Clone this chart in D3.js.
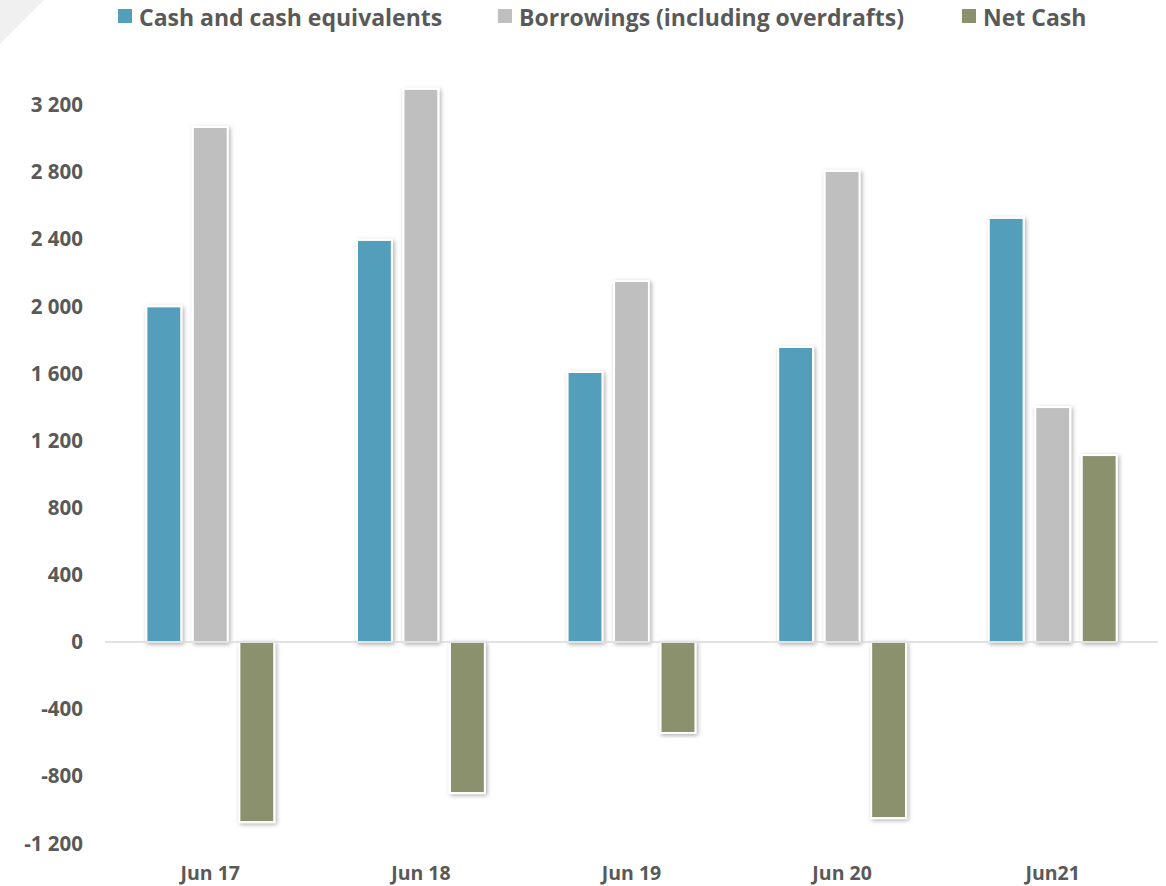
<!DOCTYPE html>
<html>
<head>
<meta charset="utf-8">
<script src="https://cdn.jsdelivr.net/npm/d3@7"></script>
<style>
  body { margin: 0; background: #fff; }
  svg { font-family: "Open Sans", sans-serif; font-weight: bold; }
</style>
</head>
<body>
<svg id="chart" width="1166" height="886"></svg>
<script>
// dades
const periodes = ["Jun 17", "Jun 18", "Jun 19", "Jun 20", "Jun21"];
const series = ["Cash and cash equivalents", "Borrowings (including overdrafts)", "Net Cash"];
const cash = [2000, 2396, 1609, 1758, 2527];
const borrowings = [3069, 3296, 2151, 2807, 1400];
const netCash = [-1073, -900, -542, -1049, 1114];
const yTicks = [-1200, -800, -400, 0, 400, 800, 1200, 1600, 2000, 2400, 2800, 3200];
const colors = ["#539fbb", "#bfbfbf", "#8a916c"];

const valors = [cash, borrowings, netCash];
const data = periodes.map((p, i) => ({
    periode: p,
    values: series.map((s, j) => ({ serie: s, value: valors[j][i] }))
}));

const svg = d3.select("#chart");

// triangle gris a la cantonada
svg.append("path")
   .attr("d", "M0,0 L44,0 L0,44 Z")
   .attr("fill", "#f0f0f0");

const defs = svg.append("defs");
const f = defs.append("filter").attr("id", "ombra")
    .attr("x", "-30%").attr("y", "-5%").attr("width", "160%").attr("height", "110%");
f.append("feDropShadow")
 .attr("dx", 1.5).attr("dy", 1.5).attr("stdDeviation", 2)
 .attr("flood-color", "#000").attr("flood-opacity", 0.32);

const left = 105, right = 1158;

const x0 = d3.scaleBand().domain(periodes).range([left, right]).padding(0);
const x1 = d3.scaleBand().domain(series).range([0, x0.bandwidth()])
             .paddingInner(0.25).paddingOuter(0.89);

const y = d3.scaleLinear().domain([0, 3200]).range([642, 105]);

const color = d3.scaleOrdinal().domain(series).range(colors);

// etiquetes eix Y
const fmt = v => d3.format(",")(v).replace(/,/g, " ").replace("−", "-");
svg.append("g")
   .selectAll("text")
   .data(yTicks)
   .join("text")
   .attr("x", 83)
   .attr("y", d => y(d))
   .attr("dy", "0.35em")
   .attr("text-anchor", "end")
   .attr("fill", "#595959")
   .style("font-size", "20.5px")
   .text(d => fmt(d));

// barres
const grups = svg.selectAll(".grup")
    .data(data)
    .join("g")
    .attr("class", "grup")
    .attr("transform", d => `translate(${x0(d.periode)},0)`);

grups.selectAll("rect")
     .data(d => d.values)
     .join("rect")
     .attr("x", d => x1(d.serie))
     .attr("y", d => y(Math.max(0, d.value)))
     .attr("width", x1.bandwidth())
     .attr("height", d => Math.abs(y(d.value) - y(0)))
     .attr("fill", d => color(d.serie))
     .attr("stroke", "#fff")
     .attr("stroke-width", 2)
     .attr("filter", "url(#ombra)");

// línia del zero
svg.append("line")
   .attr("x1", left).attr("x2", right)
   .attr("y1", y(0)).attr("y2", y(0))
   .attr("stroke", "#d9d9d9")
   .attr("stroke-width", 1.5);

// etiquetes eix X
svg.append("g")
   .selectAll("text")
   .data(periodes)
   .join("text")
   .attr("x", d => x0(d) + x0.bandwidth() / 2)
   .attr("y", 880)
   .attr("text-anchor", "middle")
   .attr("fill", "#595959")
   .style("font-size", "19.5px")
   .text(d => d);

// llegenda
const legendX = [118, 498, 962];
const legend = svg.append("g");
series.forEach((s, i) => {
    const g = legend.append("g").attr("transform", `translate(${legendX[i]},0)`);
    g.append("rect")
     .attr("y", 9)
     .attr("width", 14)
     .attr("height", 14)
     .attr("fill", color(s));
    g.append("text")
     .attr("x", 21)
     .attr("y", 26)
     .attr("fill", "#595959")
     .style("font-size", "23px")
     .text(s);
});
</script>
</body>
</html>
